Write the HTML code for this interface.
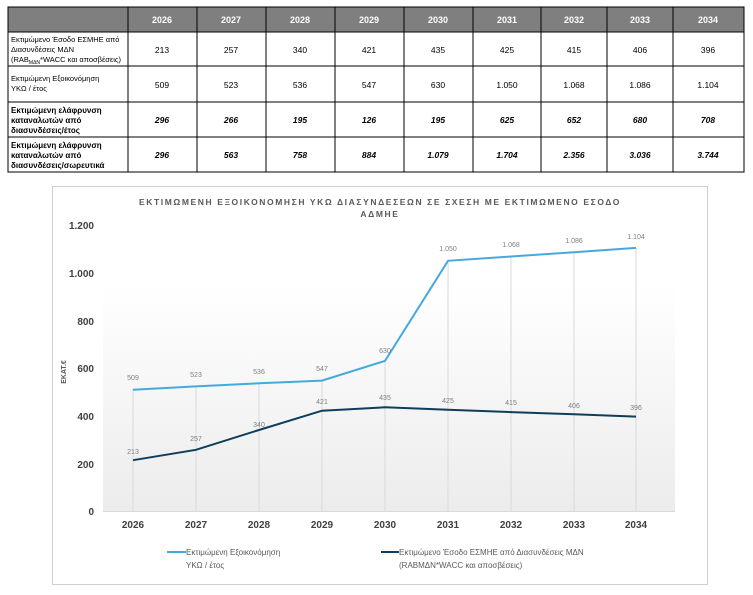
<!DOCTYPE html>
<html><head><meta charset="utf-8"><style>
html,body{margin:0;padding:0;background:#fff;width:753px;height:595px;overflow:hidden}
svg text{font-family:"Liberation Sans","DejaVu Sans",sans-serif}
</style></head><body>
<svg width="753" height="595" viewBox="0 0 753 595" xmlns="http://www.w3.org/2000/svg">
<defs><linearGradient id="g" x1="0" y1="0" x2="0" y2="1"><stop offset="0" stop-color="#fff"/><stop offset="1" stop-color="#ececec"/></linearGradient></defs>
<rect x="8" y="7" width="736" height="25" fill="#7f7f7f"/>
<g stroke="#000" stroke-width="1" fill="none">
<rect x="8" y="7" width="736" height="165"/>
<line x1="8" y1="32" x2="744" y2="32"/><line x1="8" y1="66" x2="744" y2="66"/>
<line x1="8" y1="102" x2="744" y2="102"/><line x1="8" y1="137" x2="744" y2="137"/>
<line x1="128" y1="7" x2="128" y2="172"/><line x1="197" y1="7" x2="197" y2="172"/>
<line x1="266" y1="7" x2="266" y2="172"/><line x1="335" y1="7" x2="335" y2="172"/>
<line x1="404" y1="7" x2="404" y2="172"/><line x1="473" y1="7" x2="473" y2="172"/>
<line x1="541" y1="7" x2="541" y2="172"/><line x1="607" y1="7" x2="607" y2="172"/>
<line x1="673" y1="7" x2="673" y2="172"/>
</g>
<g font-size="9" text-anchor="middle" fill="#fff" font-weight="bold">
<text x="162" y="23">2026</text><text x="231" y="23">2027</text><text x="300" y="23">2028</text><text x="369" y="23">2029</text><text x="438" y="23">2030</text><text x="507" y="23">2031</text><text x="574" y="23">2032</text><text x="640" y="23">2033</text><text x="708" y="23">2034</text>
</g>
<g font-size="7.5" fill="#000">
<text x="11" y="42">Εκτιμώμενο Έσοδο ΕΣΜΗΕ από</text><text x="11" y="52">Διασυνδέσεις ΜΔΝ</text><text x="11" y="62">(RAB<tspan font-size="5" dy="2">ΜΔΝ</tspan><tspan dy="-2">*WACC και αποσβέσεις)</tspan></text>
<text x="11" y="81">Εκτιμώμενη Εξοικονόμηση</text><text x="11" y="91">ΥΚΩ / έτος</text>
</g>
<g font-size="8" fill="#000" font-weight="bold">
<text x="11" y="113">Εκτιμώμενη ελάφρυνση</text><text x="11" y="123">καταναλωτών από</text><text x="11" y="133">διασυνδέσεις/έτος</text>
<text x="11" y="148">Εκτιμώμενη ελάφρυνση</text><text x="11" y="158">καταναλωτών από</text><text x="11" y="168">διασυνδέσεις/σωρευτικά</text>
</g>
<g font-size="8.5" text-anchor="middle" fill="#000">
<text x="162" y="53">213</text><text x="231" y="53">257</text><text x="300" y="53">340</text><text x="369" y="53">421</text><text x="438" y="53">435</text><text x="507" y="53">425</text><text x="574" y="53">415</text><text x="640" y="53">406</text><text x="708" y="53">396</text>
<text x="162" y="88">509</text><text x="231" y="88">523</text><text x="300" y="88">536</text><text x="369" y="88">547</text><text x="438" y="88">630</text><text x="507" y="88">1.050</text><text x="574" y="88">1.068</text><text x="640" y="88">1.086</text><text x="708" y="88">1.104</text>
</g>
<g font-size="8.5" text-anchor="middle" fill="#000" font-weight="bold" font-style="italic">
<text x="162" y="123">296</text><text x="231" y="123">266</text><text x="300" y="123">195</text><text x="369" y="123">126</text><text x="438" y="123">195</text><text x="507" y="123">625</text><text x="574" y="123">652</text><text x="640" y="123">680</text><text x="708" y="123">708</text>
<text x="162" y="158">296</text><text x="231" y="158">563</text><text x="300" y="158">758</text><text x="369" y="158">884</text><text x="438" y="158">1.079</text><text x="507" y="158">1.704</text><text x="574" y="158">2.356</text><text x="640" y="158">3.036</text><text x="708" y="158">3.744</text>
</g>
<rect x="52.5" y="186.5" width="655" height="398" fill="#fff" stroke="#cfcfcf"/>
<rect x="103" y="285" width="572" height="226" fill="url(#g)"/>
<g font-size="8.5" font-weight="bold" fill="#595959" text-anchor="middle" letter-spacing="1.6">
<text x="380" y="205">ΕΚΤΙΜΩΜΕΝΗ ΕΞΟΙΚΟΝΟΜΗΣΗ ΥΚΩ ΔΙΑΣΥΝΔΕΣΕΩΝ ΣΕ ΣΧΕΣΗ ΜΕ ΕΚΤΙΜΩΜΕΝΟ ΕΣΟΔΟ</text>
<text x="380" y="217">ΑΔΜΗΕ</text>
</g>
<g stroke="#d9d9d9" stroke-width="1">
<line x1="133" y1="389" x2="133" y2="511"/><line x1="196" y1="386" x2="196" y2="511"/><line x1="259" y1="383" x2="259" y2="511"/><line x1="322" y1="381" x2="322" y2="511"/><line x1="385" y1="361" x2="385" y2="511"/><line x1="448" y1="261" x2="448" y2="511"/><line x1="511" y1="257" x2="511" y2="511"/><line x1="574" y1="252" x2="574" y2="511"/><line x1="636" y1="248" x2="636" y2="511"/>
<line x1="103" y1="511.5" x2="675" y2="511.5"/>
</g>
<g font-size="10" font-weight="bold" fill="#404040" text-anchor="end">
<text x="94" y="229">1.200</text><text x="94" y="277">1.000</text><text x="94" y="325">800</text><text x="94" y="372">600</text><text x="94" y="420">400</text><text x="94" y="468">200</text><text x="94" y="515">0</text>
</g>
<text transform="translate(66,372) rotate(-90)" font-size="7" font-weight="bold" fill="#595959" text-anchor="middle">ΕΚΑΤ.€</text>
<g font-size="10" font-weight="bold" fill="#404040" text-anchor="middle">
<text x="133" y="528">2026</text><text x="196" y="528">2027</text><text x="259" y="528">2028</text><text x="322" y="528">2029</text><text x="385" y="528">2030</text><text x="448" y="528">2031</text><text x="511" y="528">2032</text><text x="574" y="528">2033</text><text x="636" y="528">2034</text>
</g>
<polyline fill="none" stroke="#45a9dc" stroke-width="2" points="133,389.7 196,386.4 259,383.3 322,380.6 385,360.9 448,260.8 511,256.5 574,252.2 636,247.9"/>
<polyline fill="none" stroke="#0e3e5a" stroke-width="2" points="133,460.2 196,449.8 259,430 322,410.7 385,407.3 448,409.7 511,412.1 574,414.3 636,416.6"/>
<g font-size="7" fill="#7f7f7f" text-anchor="middle">
<text x="133" y="380">509</text><text x="196" y="377">523</text><text x="259" y="374">536</text><text x="322" y="371">547</text><text x="385" y="353">630</text><text x="448" y="251">1.050</text><text x="511" y="247">1.068</text><text x="574" y="243">1.086</text><text x="636" y="239">1.104</text>
<text x="133" y="454">213</text><text x="196" y="441">257</text><text x="259" y="427">340</text><text x="322" y="404">421</text><text x="385" y="400">435</text><text x="448" y="403">425</text><text x="511" y="405">415</text><text x="574" y="408">406</text><text x="636" y="410">396</text>
</g>
<line x1="167" y1="552" x2="186" y2="552" stroke="#45a9dc" stroke-width="2"/>
<line x1="381" y1="552" x2="399" y2="552" stroke="#0e3e5a" stroke-width="2"/>
<g font-size="8" fill="#595959">
<text x="186" y="555">Εκτιμώμενη Εξοικονόμηση</text><text x="186" y="568">ΥΚΩ / έτος</text>
<text x="399" y="555">Εκτιμώμενο Έσοδο ΕΣΜΗΕ από Διασυνδέσεις ΜΔΝ</text><text x="399" y="568">(RABΜΔΝ*WACC και αποσβέσεις)</text>
</g>
</svg>
</body></html>
